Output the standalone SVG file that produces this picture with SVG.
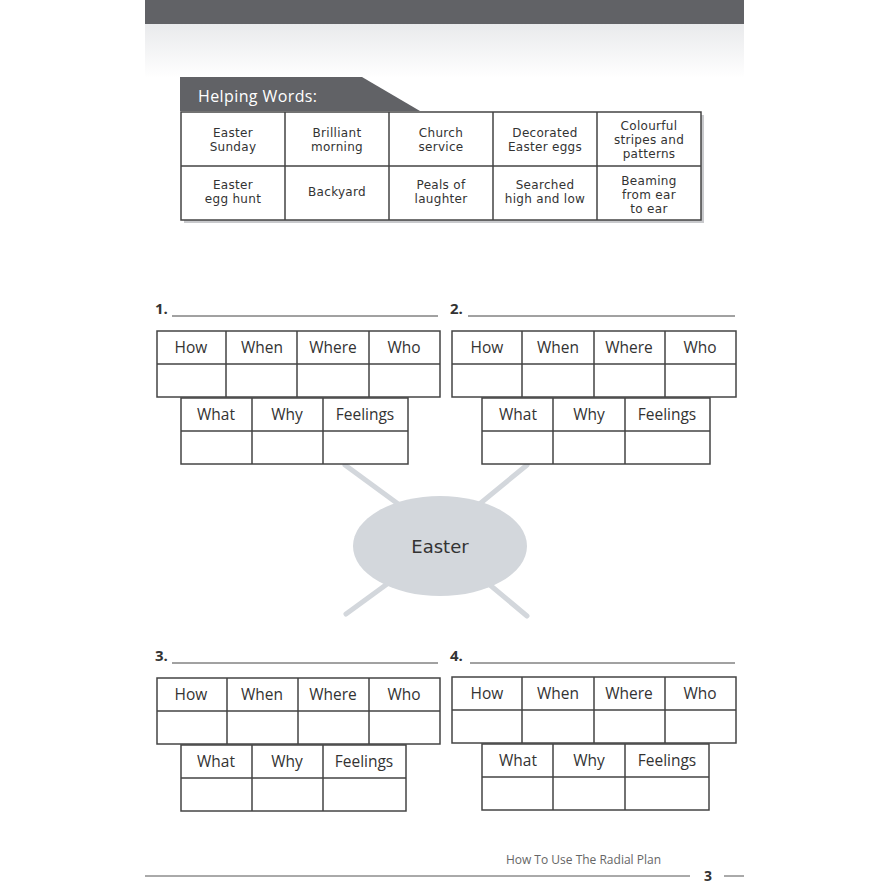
<svg xmlns="http://www.w3.org/2000/svg" width="888" height="888" viewBox="0 0 888 888">
<defs>
<linearGradient id="band" x1="0" y1="0" x2="0" y2="1">
<stop offset="0" stop-color="#e9eaec"/>
<stop offset="1" stop-color="#ffffff"/>
</linearGradient>
<style>
.t{font-family:"DejaVu Sans","Liberation Sans",sans-serif;font-size:12px;letter-spacing:0.3px;fill:#333;text-anchor:middle}
.h{font-family:"Open Sans","Liberation Sans",sans-serif;font-size:15.5px;fill:#333;text-anchor:middle}
.num{font-family:"Open Sans","Liberation Sans",sans-serif;font-size:15px;font-weight:bold;fill:#333}
.cell{fill:#fff;stroke:#444;stroke-width:1.5}
.ul{stroke:#444;stroke-width:1}
.ray{stroke:#d3d7dc;stroke-width:5;stroke-linecap:round}
</style>
</defs>
<rect width="888" height="888" fill="#fff"/>
<rect x="145" y="0" width="599" height="24" fill="#616266"/>
<rect x="145" y="24" width="599" height="54" fill="url(#band)"/>

<g id="helping-words">
<polygon points="180,77 362,77 420,111 180,111" fill="#616266"/>
<text x="198" y="102" style="font-family:'Open Sans','Liberation Sans',sans-serif;font-size:16px;letter-spacing:0.4px;fill:#fff">Helping Words:</text>
<rect x="184" y="115" width="520" height="108" fill="#c8c9cc"/>
<rect x="181" y="112" width="520" height="108" class="cell"/>
<path d="M181 166H701M285 112V220M389 112V220M493 112V220M597 112V220" stroke="#444" stroke-width="1.5" fill="none"/>
<text class="t"><tspan x="233" y="137">Easter</tspan><tspan x="233" y="151">Sunday</tspan></text>
<text class="t"><tspan x="337" y="137">Brilliant</tspan><tspan x="337" y="151">morning</tspan></text>
<text class="t"><tspan x="441" y="137">Church</tspan><tspan x="441" y="151">service</tspan></text>
<text class="t"><tspan x="545" y="137">Decorated</tspan><tspan x="545" y="151">Easter eggs</tspan></text>
<text class="t"><tspan x="649" y="130">Colourful</tspan><tspan x="649" y="144">stripes and</tspan><tspan x="649" y="158">patterns</tspan></text>
<text class="t"><tspan x="233" y="189">Easter</tspan><tspan x="233" y="203">egg hunt</tspan></text>
<text class="t" x="337" y="196">Backyard</text>
<text class="t"><tspan x="441" y="189">Peals of</tspan><tspan x="441" y="203">laughter</tspan></text>
<text class="t"><tspan x="545" y="189">Searched</tspan><tspan x="545" y="203">high and low</tspan></text>
<text class="t"><tspan x="649" y="185">Beaming</tspan><tspan x="649" y="199">from ear</tspan><tspan x="649" y="213">to ear</tspan></text>
</g>

<g id="connectors">
<line class="ray" x1="345" y1="465" x2="420" y2="520"/>
<line class="ray" x1="527" y1="465" x2="460" y2="520"/>
<line class="ray" x1="346" y1="614" x2="420" y2="560"/>
<line class="ray" x1="527" y1="616" x2="460" y2="560"/>
</g>

<g id="easter">
<ellipse cx="440" cy="546" rx="87" ry="50" fill="#d3d7dc"/>
<text x="440" y="553" style="font-family:'DejaVu Sans','Liberation Sans',sans-serif;font-size:18px;fill:#333;text-anchor:middle">Easter</text>
</g>

<g id="plan-1">
<text class="num" x="155" y="314">1.</text>
<line class="ul" x1="172" y1="316" x2="438" y2="316"/>
<rect x="157" y="331" width="283" height="66" class="cell"/>
<path d="M157 364H440M226 331V397M297 331V397M369 331V397" stroke="#444" stroke-width="1.5" fill="none"/>
<rect x="181" y="398" width="227" height="66" class="cell"/>
<path d="M181 431H408M252 398V464M323 398V464" stroke="#444" stroke-width="1.5" fill="none"/>
<text class="h" x="191" y="353">How</text><text class="h" x="262" y="353">When</text><text class="h" x="333" y="353">Where</text><text class="h" x="404" y="353">Who</text>
<text class="h" x="216" y="420">What</text><text class="h" x="287" y="420">Why</text><text class="h" x="365" y="420">Feelings</text>
</g>

<g id="plan-2">
<text class="num" x="450" y="314">2.</text>
<line class="ul" x1="468" y1="316" x2="735" y2="316"/>
<rect x="452" y="331" width="284" height="66" class="cell"/>
<path d="M452 364H736M522 331V397M594 331V397M665 331V397" stroke="#444" stroke-width="1.5" fill="none"/>
<rect x="482" y="398" width="228" height="66" class="cell"/>
<path d="M482 431H710M553 398V464M625 398V464" stroke="#444" stroke-width="1.5" fill="none"/>
<text class="h" x="487" y="353">How</text><text class="h" x="558" y="353">When</text><text class="h" x="629" y="353">Where</text><text class="h" x="700" y="353">Who</text>
<text class="h" x="518" y="420">What</text><text class="h" x="589" y="420">Why</text><text class="h" x="667" y="420">Feelings</text>
</g>

<g id="plan-3">
<text class="num" x="155" y="661">3.</text>
<line class="ul" x1="172" y1="663" x2="438" y2="663"/>
<rect x="157" y="678" width="283" height="66" class="cell"/>
<path d="M157 711H440M227 678V744M298 678V744M369 678V744" stroke="#444" stroke-width="1.5" fill="none"/>
<rect x="181" y="745" width="225" height="66" class="cell"/>
<path d="M181 778H406M252 745V811M323 745V811" stroke="#444" stroke-width="1.5" fill="none"/>
<text class="h" x="191" y="700">How</text><text class="h" x="262" y="700">When</text><text class="h" x="333" y="700">Where</text><text class="h" x="404" y="700">Who</text>
<text class="h" x="216" y="767">What</text><text class="h" x="287" y="767">Why</text><text class="h" x="364" y="767">Feelings</text>
</g>

<g id="plan-4">
<text class="num" x="450" y="661">4.</text>
<line class="ul" x1="470" y1="663" x2="735" y2="663"/>
<rect x="452" y="677" width="284" height="66" class="cell"/>
<path d="M452 710H736M522 677V743M594 677V743M665 677V743" stroke="#444" stroke-width="1.5" fill="none"/>
<rect x="482" y="744" width="227" height="66" class="cell"/>
<path d="M482 777H709M553 744V810M625 744V810" stroke="#444" stroke-width="1.5" fill="none"/>
<text class="h" x="487" y="699">How</text><text class="h" x="558" y="699">When</text><text class="h" x="629" y="699">Where</text><text class="h" x="700" y="699">Who</text>
<text class="h" x="518" y="766">What</text><text class="h" x="589" y="766">Why</text><text class="h" x="667" y="766">Feelings</text>
</g>

<g id="footer">
<text x="661" y="864" style="font-family:'Open Sans','Liberation Sans',sans-serif;font-size:12px;fill:#666;text-anchor:end">How To Use The Radial Plan</text>
<line x1="145" y1="876" x2="690" y2="876" stroke="#555" stroke-width="1"/>
<text x="704" y="881" style="font-family:'Open Sans','Liberation Sans',sans-serif;font-size:14px;font-weight:bold;fill:#333">3</text>
<line x1="724" y1="876" x2="744" y2="876" stroke="#555" stroke-width="1"/>
</g>
</svg>
